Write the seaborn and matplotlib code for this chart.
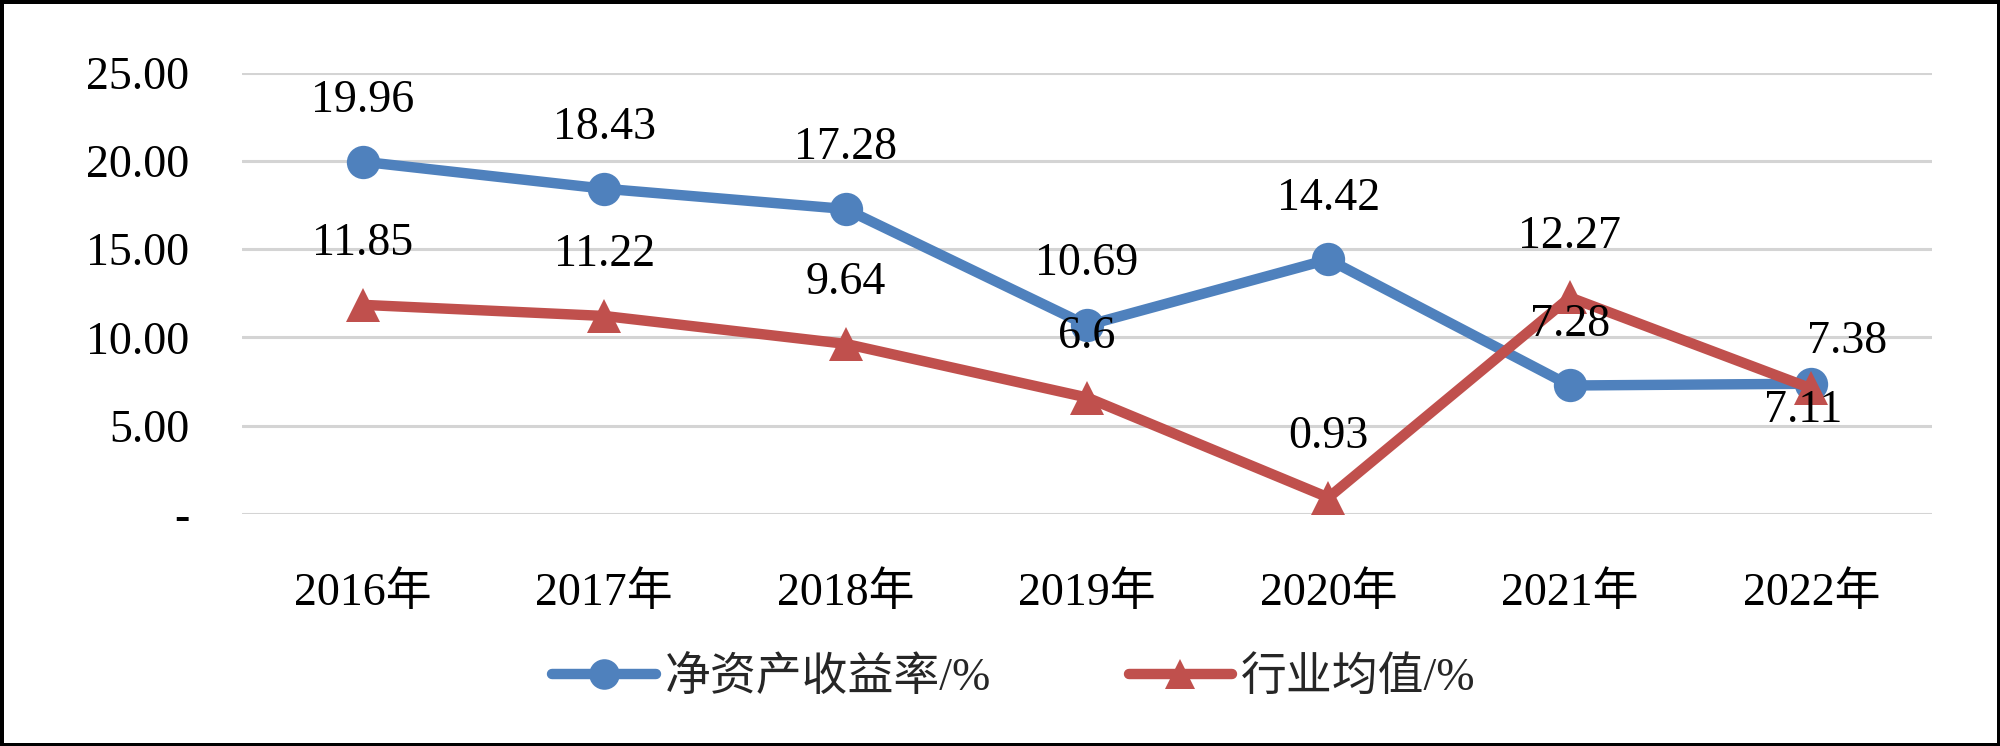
import pandas as pd
import matplotlib
matplotlib.use('Agg')
import matplotlib.pyplot as plt
from matplotlib.lines import Line2D
import seaborn as sns

# Data
years = ['2016年', '2017年', '2018年', '2019年', '2020年', '2021年', '2022年']
roe = [19.96, 18.43, 17.28, 10.69, 14.42, 7.28, 7.38]
industry = [11.85, 11.22, 9.64, 6.6, 0.93, 12.27, 7.11]
series_names = ['净资产收益率/%', '行业均值/%']
y_ticks = [0, 5, 10, 15, 20, 25]
y_tick_labels = ['-', '5.00', '10.00', '15.00', '20.00', '25.00']

colors = {series_names[0]: '#4F81BD', series_names[1]: '#C0504D'}
markers = {series_names[0]: 'o', series_names[1]: '^'}

df = pd.concat([
    pd.DataFrame({'year': years, 'value': roe, 'series': series_names[0]}),
    pd.DataFrame({'year': years, 'value': industry, 'series': series_names[1]}),
], ignore_index=True)

sns.set_style('white')
plt.rcParams['font.family'] = ['Liberation Serif', 'Noto Sans CJK SC']

fig = plt.figure(figsize=(20, 7.46), dpi=100, edgecolor='black', linewidth=5)
ax = fig.add_axes([0.121, 0.311, 0.845, 0.5915])

for ticky in y_ticks:
    ax.axhline(ticky, color='#D4D4D4', linewidth=2.2, zorder=0)

sns.lineplot(data=df, x='year', y='value', hue='series', style='series',
             palette=colors, markers=markers, dashes=False, sort=False,
             linewidth=7.5, markersize=24, markeredgewidth=0, legend=False, ax=ax)

# data labels, offsets in points (the last two are nudged like in the original)
label_offsets = {(0, 6): (26, 30), (1, 6): (-6, -16)}
for si, vals in enumerate([roe, industry]):
    for i, v in enumerate(vals):
        dx, dy = label_offsets.get((si, i), (0, 44))
        ax.annotate(f'{v:g}', (i, v), xytext=(dx, dy), textcoords='offset points',
                    ha='center', va='center', fontsize=33, color='black')

ax.set_xlim(-0.5, 6.5)
ax.set_ylim(0, 25)
ax.set_yticks(y_ticks)
ax.set_yticklabels(y_tick_labels)
ax.set_xlabel('')
ax.set_ylabel('')
ax.tick_params(axis='both', length=0, labelsize=33, colors='black')
ax.tick_params(axis='y', pad=38)
ax.tick_params(axis='x', pad=42)
for s in ax.spines.values():
    s.set_visible(False)

handles = [Line2D([], [], color=colors[n], marker=markers[n], linewidth=7.5,
                  markersize=22, markeredgewidth=0) for n in series_names]
fig.legend(handles, series_names, loc='center', bbox_to_anchor=(0.507, 0.09),
           ncol=2, frameon=False, fontsize=33, handlelength=2.25,
           columnspacing=3.0, handletextpad=0.2)

fig.savefig('out.png', dpi=100)
